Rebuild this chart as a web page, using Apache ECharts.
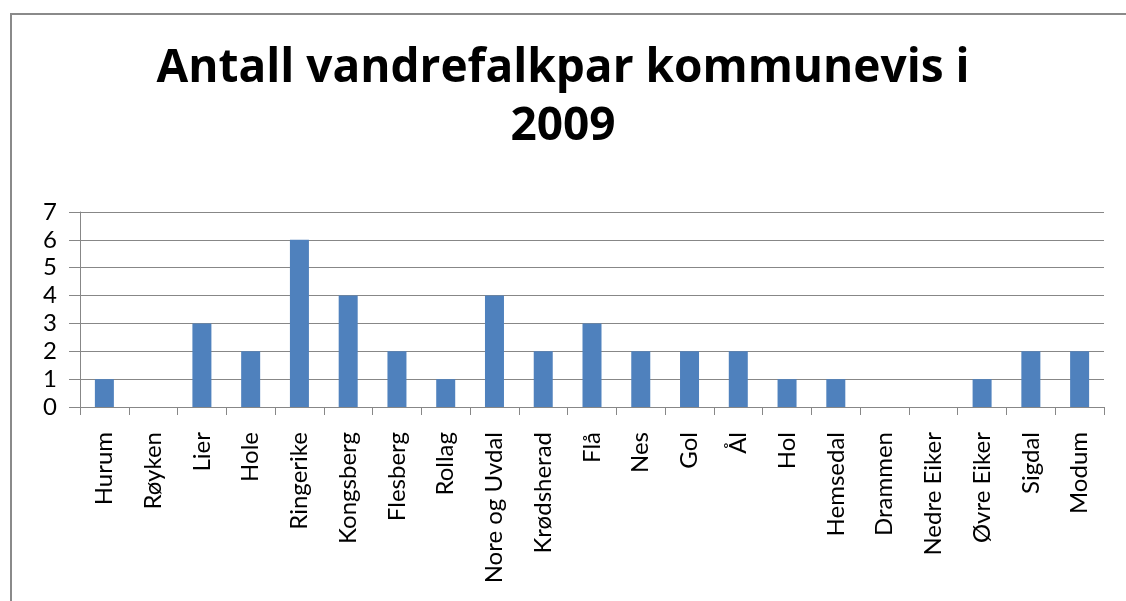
<!DOCTYPE html>
<html>
<head>
<meta charset="utf-8">
<script src="https://cdn.jsdelivr.net/npm/echarts@6/dist/echarts.min.js"></script>
<style>
  html, body { margin: 0; padding: 0; background: #fff; overflow: hidden; }
  #wrap { position: relative; width: 1126px; height: 601px; }
  #chart { width: 1126px; height: 601px; }
  /* ramme, bare venstre og topp synes */
  #frame { position: absolute; left: 10px; top: 13px; width: 1200px; height: 700px;
    border-left: 2px solid #8a8a8a; border-top: 2px solid #8a8a8a; pointer-events: none; }
</style>
</head>
<body>
<div id="wrap">
  <div id="chart"></div>
  <div id="frame"></div>
</div>
<script>
// kommuner og antall par
const kommuner = ['Hurum', 'Røyken', 'Lier', 'Hole', 'Ringerike', 'Kongsberg', 'Flesberg', 'Rollag',
  'Nore og Uvdal', 'Krødsherad', 'Flå', 'Nes', 'Gol', 'Ål', 'Hol', 'Hemsedal', 'Drammen',
  'Nedre Eiker', 'Øvre Eiker', 'Sigdal', 'Modum']
const antallPar = [1, 0, 3, 2, 6, 4, 2, 1, 4, 2, 3, 2, 2, 2, 1, 1, 0, 0, 1, 2, 2]
const yTicks = [0, 1, 2, 3, 4, 5, 6, 7]

const gridGray = '#878787'
const fontFam = 'Lato, "Open Sans", sans-serif'

const chart = echarts.init(document.getElementById('chart'))

chart.setOption({
  animation: false,
  backgroundColor: '#fff',
  title: {
    text: 'Antall vandrefalkpar kommunevis i\n2009',
    left: 'center',
    top: 35,
    padding: [5, 0, 5, 22],
    textStyle: {
      fontFamily: '"Open Sans", sans-serif',
      fontWeight: 'bold',
      fontSize: 46,
      lineHeight: 58,
      color: '#000'
    }
  },
  grid: { left: 80, right: 22, top: 212, bottom: 194, containLabel: false },
  xAxis: {
    type: 'category',
    data: kommuner,
    boundaryGap: true,
    axisLine: { lineStyle: { color: gridGray, width: 1 } },
    axisTick: { show: true, length: 8, interval: 0, lineStyle: { color: gridGray } },
    axisLabel: {
      interval: 0,
      rotate: 90,
      margin: 25,
      fontFamily: fontFam,
      fontSize: 24,
      color: '#000'
    }
  },
  yAxis: {
    type: 'value',
    min: yTicks[0],
    max: yTicks[yTicks.length - 1],
    interval: 1,
    axisLine: { show: true, lineStyle: { color: gridGray, width: 1 } },
    axisTick: { show: true, length: 11, lineStyle: { color: gridGray } },
    splitLine: { show: true, lineStyle: { color: gridGray, width: 1 } },
    axisLabel: {
      margin: 23,
      fontFamily: fontFam,
      fontSize: 24,
      color: '#000'
    }
  },
  series: [{
    type: 'bar',
    data: antallPar,
    barWidth: 19,
    itemStyle: { color: '#4f81bd' }
  }]
})
</script>
</body>
</html>
